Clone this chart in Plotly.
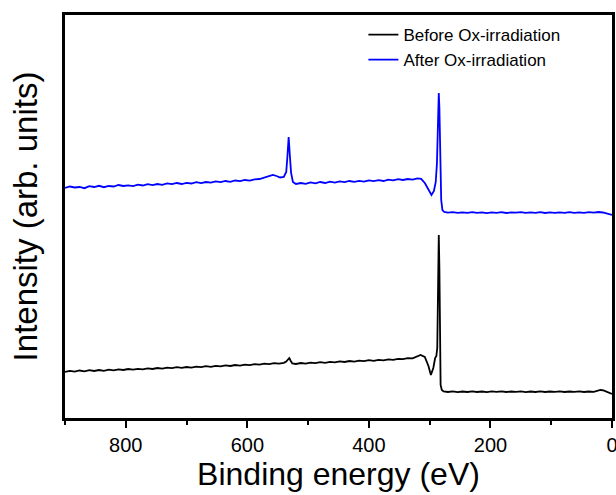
import plotly.graph_objects as go

# Binding energy (eV) and intensity (arb. units)
before_be = [900, 892, 884, 876, 868, 860, 852, 844, 836, 828, 820, 812, 804, 796, 788,
             780, 772, 764, 756, 748, 740, 732, 724, 716, 708, 700, 692, 684, 676, 668,
             660, 652, 644, 636, 628, 620, 612, 604, 596, 588, 580, 572, 564, 556, 548,
             540, 536, 533, 531, 529, 526, 520, 512, 504, 496, 488, 480, 472, 464, 456,
             448, 440, 432, 424, 416, 408, 400, 392, 384, 376, 368, 360, 352, 344, 336,
             328, 322, 315, 308, 302, 298, 294, 291, 289, 287.5, 286, 285, 284, 283, 282,
             280, 277, 270, 262, 254, 246, 238, 230, 222, 214, 206, 198, 190, 182, 174,
             166, 158, 150, 142, 134, 126, 118, 110, 102, 94, 86, 78, 70, 62, 54,
             46, 38, 30, 24, 19, 14, 9, 4, 0]
before_int = [46, 47.2, 46.3, 47.5, 46.6, 47.8, 47, 48, 47.2, 48.3, 47.6, 48.6, 48, 49, 48.3,
              49.2, 48.6, 49.6, 49, 50, 49.4, 50.4, 49.8, 50.8, 50.2, 51, 50.4, 51.4, 50.8, 51.8,
              51.2, 52.2, 51.6, 52.6, 52, 53, 52.4, 53.4, 52.8, 53.8, 53.4, 54.4, 53.8, 54.8, 54.4,
              55.2, 56.5, 59, 60, 57.5, 54.5, 54, 55, 54.4, 55.4, 54.8, 55.8, 55.2, 56.2, 55.6,
              56.6, 56, 57, 56.4, 57.4, 56.8, 57.8, 57.2, 58.2, 57.6, 58.6, 58.2, 59.2, 58.8, 59.8,
              59.6, 61.5, 63, 61, 52, 43, 50, 60, 62, 70, 130, 183, 150, 78, 33,
              28, 26.5, 26, 26.6, 25.9, 26.5, 26, 26.7, 26, 26.5, 25.8, 26.6, 26.1, 26.7, 26,
              26.5, 26.1, 26.7, 25.9, 26.5, 26, 26.6, 26, 26.5, 26.1, 26.7, 26, 26.5, 26.1, 26.6,
              26, 26.5, 26.2, 27, 28, 27.6, 26.4, 25.2, 24]

after_be = [900, 892, 884, 876, 868, 860, 852, 844, 836, 828, 820, 812, 804, 796, 788,
            780, 772, 764, 756, 748, 740, 732, 724, 716, 708, 700, 692, 684, 676, 668,
            660, 652, 644, 636, 628, 620, 612, 604, 596, 588, 580, 572, 564, 558, 552,
            546, 540, 536, 534, 532, 530, 528, 525, 520, 512, 504, 496, 488, 480, 472,
            464, 456, 448, 440, 432, 424, 416, 408, 400, 392, 384, 376, 368, 360, 352,
            344, 336, 328, 320, 314, 308, 302, 297, 293, 290, 288, 286.5, 285, 284, 283,
            282, 281, 279, 276, 270, 262, 254, 246, 238, 230, 222, 214, 206, 198, 190,
            182, 174, 166, 158, 150, 142, 134, 126, 118, 110, 102, 94, 86, 78, 70,
            62, 54, 46, 38, 30, 22, 15, 8, 0]
after_int = [230, 231.5, 230.5, 231, 229.8, 231.8, 231, 232.2, 230.8, 232, 231.5, 233, 232, 232.6, 231.8,
             233.4, 232.5, 233.8, 232.9, 234, 233.2, 234.6, 233.8, 235, 234, 235.2, 234.5, 235.8, 234.9, 236,
             235.4, 236.6, 235.8, 237, 236.2, 237.5, 236.8, 238, 237.4, 238.6, 239, 240.2, 241.5, 243, 242,
             240.5, 241, 246, 262, 281, 262, 245, 236, 234, 235, 234.2, 235.6, 234.6, 236, 235,
             236.4, 235.4, 236.6, 235.8, 237, 236.2, 237.2, 236.4, 237.6, 236.8, 237.8, 237, 238.4, 237.6, 238.8,
             238, 239, 238.4, 239.6, 239.2, 235, 228, 223, 227, 236, 255, 290, 325, 310, 270,
             240, 218, 208, 206, 205.4, 205.8, 205.1, 205.7, 205.2, 205.9, 205.1, 205.6, 204.9, 205.7, 205.2,
             205.8, 205, 205.6, 205.3, 205.9, 205.1, 205.7, 205.2, 205.8, 205, 205.6, 205.1, 205.7, 205.2, 205.8,
             205.1, 205.6, 205.2, 205.8, 205.3, 206, 205.5, 204.3, 203]

x_tickvals = [800, 600, 400, 200, 0]
x_ticktext = ["800", "600", "400", "200", "0"]

FONT = "Arial, 'Liberation Sans', sans-serif"

fig = go.Figure()
fig.add_trace(go.Scatter(x=before_be, y=before_int, mode="lines", name="Before Ox-irradiation",
                         line=dict(color="#000000", width=1.8)))
fig.add_trace(go.Scatter(x=after_be, y=after_int, mode="lines", name="After Ox-irradiation",
                         line=dict(color="#0000ff", width=1.8)))

fig.update_layout(
    width=616, height=495,
    margin=dict(l=65, r=4, t=15, b=77),
    paper_bgcolor="white", plot_bgcolor="white",
    font=dict(family=FONT, color="black"),
    showlegend=True,
    legend=dict(x=0.5455, y=0.995, xanchor="left", yanchor="top",
                font=dict(size=17, family=FONT, color="black"),
                bgcolor="rgba(0,0,0,0)", tracegroupgap=0),
    xaxis=dict(range=[900, 0], autorange=False, automargin=False,
               ticklabeloverflow="allow",
               tickvals=x_tickvals, ticktext=x_ticktext,
               ticks="outside", ticklen=7, tickwidth=2, tickcolor="black",
               minor=dict(dtick=100, tick0=0, ticks="outside", ticklen=4, tickwidth=2, tickcolor="black"),
               showline=True, linewidth=2.5, linecolor="black", mirror=True,
               showgrid=False, zeroline=False,
               tickfont=dict(size=20, family=FONT, color="black"),
               title=dict(text="Binding energy (eV)", font=dict(size=32, family=FONT, color="black"),
                          standoff=8)),
    yaxis=dict(range=[0, 403], autorange=False, automargin=False,
               showticklabels=False, ticks="",
               showline=True, linewidth=2.5, linecolor="black", mirror=True,
               showgrid=False, zeroline=False,
               title=dict(text="Intensity (arb. units)", font=dict(size=33, family=FONT, color="black"),
                          standoff=15)),
)

fig.write_html("out.html")
